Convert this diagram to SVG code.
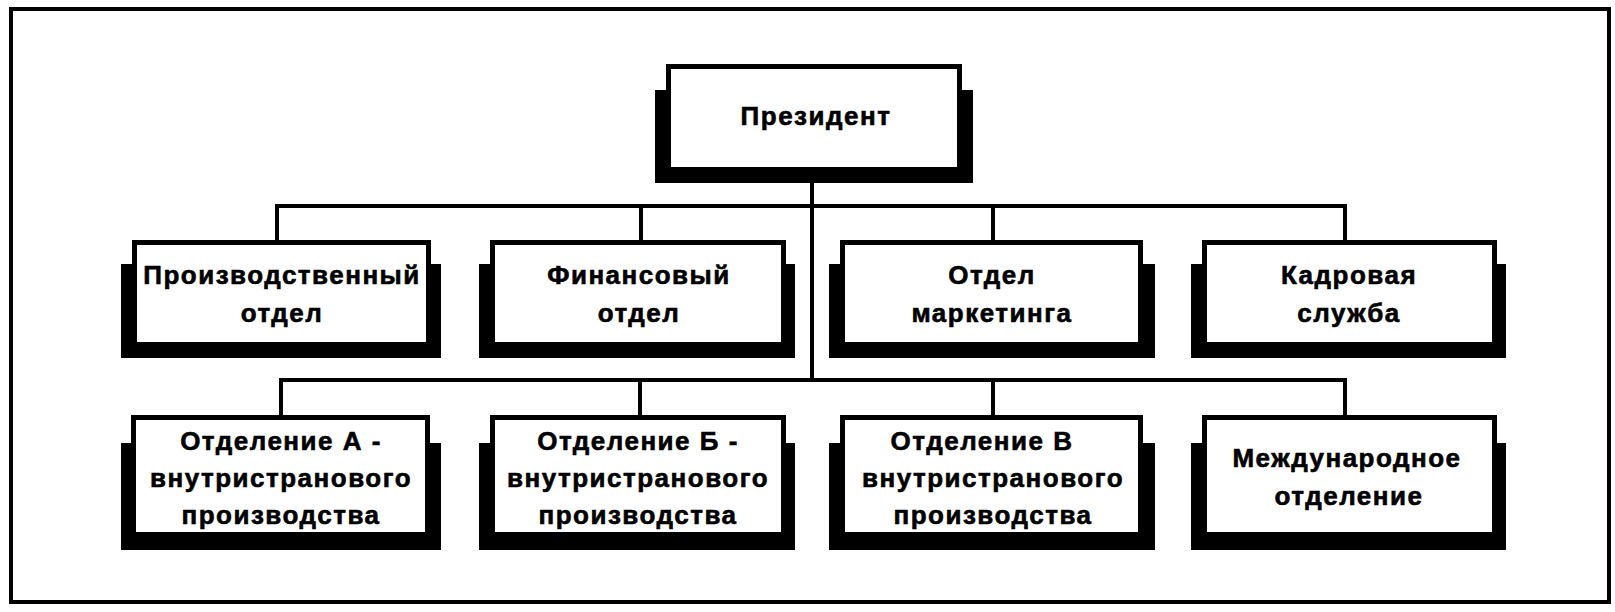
<svg xmlns="http://www.w3.org/2000/svg" width="1615" height="612" viewBox="0 0 1615 612">
<style>
.frame{fill:none;stroke:#000;stroke-width:4}
.sh{fill:#000}
.box{fill:#fff;stroke:#000;stroke-width:5}
.lbl{font-family:"Liberation Sans","Noto Sans",Arial,sans-serif;font-weight:bold;font-size:26px;letter-spacing:1.5px;fill:#000;stroke:#000;stroke-width:0.6;text-anchor:middle}
.con{fill:none;stroke:#000;stroke-width:4}
</style>
<rect width="1615" height="612" fill="#fff"/>
<rect class="frame" x="11" y="9" width="1598" height="593"/>
<g id="connectors">
<path class="con" d="M812,172 V382"/>
<path class="con" d="M277,241 V206 H1345 V241 M641,206 V241 M993,206 V241"/>
<path class="con" d="M281,416 V380 H1345 V416 M640,380 V416 M993,380 V416"/>
</g>
<g id="president">
<rect class="sh" x="655" y="90" width="318" height="93"/>
<rect class="box" x="668.5" y="66.5" width="291" height="103"/>
<text class="lbl" x="816" y="125">Президент</text>
</g>
<g id="proizvodstvenny">
<rect class="sh" x="121" y="264" width="320" height="94"/>
<rect class="box" x="134.5" y="242.5" width="294" height="102"/>
<text class="lbl" x="282" y="284">Производственный</text>
<text class="lbl" x="282" y="322">отдел</text>
</g>
<g id="finansovy">
<rect class="sh" x="479" y="264" width="316" height="94"/>
<rect class="box" x="492.5" y="242.5" width="291" height="102"/>
<text class="lbl" x="639" y="284">Финансовый</text>
<text class="lbl" x="639" y="322">отдел</text>
</g>
<g id="marketing">
<rect class="sh" x="829" y="264" width="326" height="94"/>
<rect class="box" x="842.5" y="242.5" width="298" height="102"/>
<text class="lbl" x="992" y="284">Отдел</text>
<text class="lbl" x="992" y="322">маркетинга</text>
</g>
<g id="kadry">
<rect class="sh" x="1191" y="264" width="315" height="94"/>
<rect class="box" x="1204.5" y="242.5" width="290" height="102"/>
<text class="lbl" x="1349" y="284">Кадровая</text>
<text class="lbl" x="1349" y="322">служба</text>
</g>
<g id="otdelenie-a">
<rect class="sh" x="121" y="443" width="320" height="107"/>
<rect class="box" x="133.5" y="417.5" width="294" height="117"/>
<text class="lbl" x="281" y="450">Отделение А -</text>
<text class="lbl" x="281" y="487">внутристранового</text>
<text class="lbl" x="281" y="524">производства</text>
</g>
<g id="otdelenie-b">
<rect class="sh" x="479" y="443" width="316" height="107"/>
<rect class="box" x="492.5" y="417.5" width="291" height="117"/>
<text class="lbl" x="638" y="450">Отделение Б -</text>
<text class="lbl" x="638" y="487">внутристранового</text>
<text class="lbl" x="638" y="524">производства</text>
</g>
<g id="otdelenie-v">
<rect class="sh" x="829" y="443" width="326" height="107"/>
<rect class="box" x="842.5" y="417.5" width="298" height="117"/>
<text class="lbl" x="982" y="450">Отделение В</text>
<text class="lbl" x="993" y="487">внутристранового</text>
<text class="lbl" x="993" y="524">производства</text>
</g>
<g id="mezhdunarodnoe">
<rect class="sh" x="1191" y="443" width="315" height="107"/>
<rect class="box" x="1204.5" y="417.5" width="290" height="117"/>
<text class="lbl" x="1347" y="467">Международное</text>
<text class="lbl" x="1349" y="505">отделение</text>
</g>
</svg>
